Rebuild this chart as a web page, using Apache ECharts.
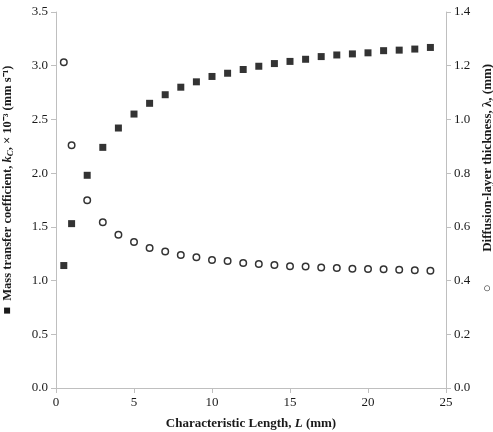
<!DOCTYPE html>
<html><head><meta charset="utf-8">
<script src="https://cdn.jsdelivr.net/npm/echarts@6/dist/echarts.min.js"></script>
<style>html,body{margin:0;padding:0;background:#fff}#c{width:493px;height:432px}</style>
</head><body><div id="c"></div>
<script>
var lengths = [0.5,1,2,3,4,5,6,7,8,9,10,11,12,13,14,15,16,17,18,19,20,21,22,23,24];
var kc = [1.14,1.53,1.98,2.24,2.42,2.55,2.65,2.73,2.80,2.85,2.90,2.93,2.965,2.995,3.02,3.04,3.06,3.085,3.10,3.11,3.12,3.14,3.145,3.155,3.17];
var lambda = [1.213,0.904,0.699,0.617,0.571,0.544,0.521,0.508,0.495,0.487,0.477,0.473,0.465,0.462,0.458,0.453,0.452,0.449,0.447,0.444,0.443,0.442,0.440,0.438,0.437];
var xTicks = [0,5,10,15,20,25];
var leftTicks = [0.0,0.5,1.0,1.5,2.0,2.5,3.0,3.5];
var rightTicks = [0.0,0.2,0.4,0.6,0.8,1.0,1.2,1.4];

var font = 'Liberation Serif';
var axisColor = '#bfbfbf';
var txt = '#1a1a1a';

function pairs(xs, ys){ return xs.map(function(x,i){return [x, ys[i]];}); }

var chart = echarts.init(document.getElementById('c'), null, {renderer:'canvas'});
chart.setOption({
  animation:false,
  backgroundColor:'#fff',
  grid:{left:56, right:47, top:12, bottom:44, containLabel:false, outerBoundsMode:'none'},
  xAxis:{
    type:'value', min:xTicks[0], max:xTicks[xTicks.length-1], interval:5,
    axisLine:{lineStyle:{color:axisColor, width:1}},
    axisTick:{show:true, length:5, lineStyle:{color:axisColor}},
    splitLine:{show:false},
    axisLabel:{color:txt, fontFamily:font, fontSize:13, margin:8},
    name:'Characteristic Length, {i|L} (mm)',
    nameLocation:'middle', nameGap:29,
    nameTextStyle:{color:txt, fontFamily:font, fontSize:13, fontWeight:'bold',
      rich:{i:{fontFamily:font, fontSize:13, fontWeight:'bold', fontStyle:'italic', color:txt}}}
  },
  yAxis:[{
    type:'value', min:0, max:3.5, interval:0.5,
    axisLine:{show:true, lineStyle:{color:axisColor}},
    axisTick:{show:true, length:5, lineStyle:{color:axisColor}},
    splitLine:{show:false},
    axisLabel:{color:txt, fontFamily:font, fontSize:13, margin:8, formatter:function(v){return v.toFixed(1);}},
    name:'■  Mass transfer coefficient, {i|k}{s|C}, × 10⁻³ (mm s⁻¹)',
    nameLocation:'middle', nameGap:41, nameRotate:90,
    nameTextStyle:{color:txt, fontFamily:font, fontSize:12.5, fontWeight:'bold', padding:[0,0,0,20],
      rich:{i:{fontFamily:font, fontSize:12.5, fontWeight:'bold', fontStyle:'italic', color:txt},
            s:{fontFamily:font, fontSize:9, fontWeight:'bold', fontStyle:'italic', color:txt, verticalAlign:'bottom', padding:[5,0,0,0]}}}
  },{
    type:'value', min:0, max:1.4, interval:0.2, position:'right',
    axisLine:{show:true, lineStyle:{color:axisColor}},
    axisTick:{show:true, length:5, lineStyle:{color:axisColor}},
    splitLine:{show:false},
    axisLabel:{color:txt, fontFamily:font, fontSize:13, margin:8, formatter:function(v){return v.toFixed(1);}},
    name:'○          Diffusion-layer thickness, λ, (mm)',
    nameLocation:'middle', nameGap:31, nameRotate:90,
    nameTextStyle:{color:txt, fontFamily:font, fontSize:13, fontWeight:'bold', padding:[0,0,0,44]}
  }],
  series:[{
    type:'scatter', yAxisIndex:0, data:pairs(lengths, kc),
    symbol:'rect', symbolSize:7,
    itemStyle:{color:'#000'}
  },{
    type:'scatter', yAxisIndex:1, data:pairs(lengths, lambda),
    symbol:'circle', symbolSize:6.5,
    itemStyle:{color:'#fff', borderColor:'#000', borderWidth:1.5}
  }]
});
</script></body></html>
